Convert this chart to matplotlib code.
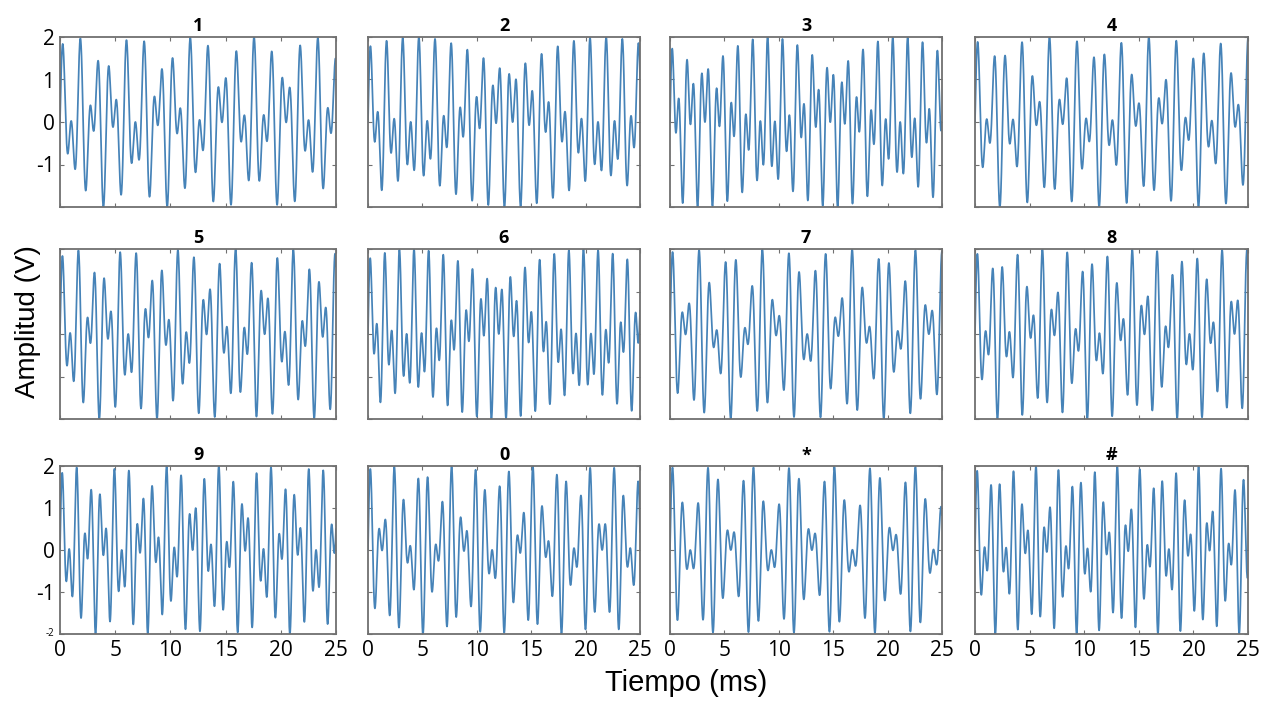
import numpy as np
import matplotlib
matplotlib.use("Agg")
import matplotlib.pyplot as plt

# DTMF keys and their tone pairs (Hz), in panel order
teclas = ['1', '2', '3', '4', '5', '6', '7', '8', '9', '0', '*', '#']
f_baja = [697, 697, 697, 770, 770, 770, 852, 852, 852, 941, 941, 941]
f_alta = [1209, 1336, 1477, 1209, 1336, 1477, 1209, 1336, 1477, 1336, 1209, 1477]
duracion_ms = 25
x_ticks = [0, 5, 10, 15, 20, 25]
y_ticks = [-2, -1, 0, 1, 2]

t = np.linspace(0, duracion_ms / 1000, 4000)

# panel boxes in pixels (left, top, width, height)
col_left = [60, 368, 670, 975]
col_width = [276, 272, 272, 273]
row_top = [37, 249, 466]
row_height = [170, 170, 168]

W, H = 1273, 701
fig = plt.figure(figsize=(W / 100, H / 100), dpi=100)

gris = '#707070'
azul = '#4683b8'

for i, tecla in enumerate(teclas):
    r, c = divmod(i, 4)
    l = col_left[c] / W
    w = col_width[c] / W
    h = row_height[r] / H
    b = 1 - (row_top[r] + row_height[r]) / H
    ax = fig.add_axes([l, b, w, h])

    y = np.sin(2 * np.pi * f_baja[i] * t) + np.sin(2 * np.pi * f_alta[i] * t)
    ax.plot(t * 1000, y, color=azul, lw=1.25)

    ax.set_xlim(0, duracion_ms)
    ax.set_ylim(-2, 2)
    ax.set_xticks(x_ticks)
    ax.set_yticks(y_ticks)
    ax.tick_params(direction='in', length=3, color=gris, top=True, right=True,
                   labelsize=15, pad=4)
    for s in ax.spines.values():
        s.set_color(gris)
        s.set_linewidth(1.3)

    if r == 2:
        ax.set_xticklabels([str(v) for v in x_ticks], fontfamily='Open Sans')
    else:
        ax.set_xticklabels([])
    if c == 0 and r != 1:
        lbls = ['', '-1', '0', '1', '2']
        ax.set_yticklabels(lbls, fontfamily='Open Sans')
        if r == 2:
            ax.text(-0.02, 0, '-2', transform=ax.transAxes, ha='right',
                    va='center', fontsize=7, fontfamily='Open Sans')
    else:
        ax.set_yticklabels([])

    ax.set_title(tecla, fontsize=13, fontweight='bold', fontfamily='Open Sans', pad=4)

fig.text(28 / W, 1 - 322 / H, 'Amplitud (V)', rotation=90, ha='center', va='center',
         fontsize=20, fontfamily='Liberation Sans')
fig.text(686 / W, 1 - 683 / H, 'Tiempo (ms)', ha='center', va='center',
         fontsize=21, fontfamily='Liberation Sans')

fig.savefig('out.png', dpi=100, facecolor='white')
